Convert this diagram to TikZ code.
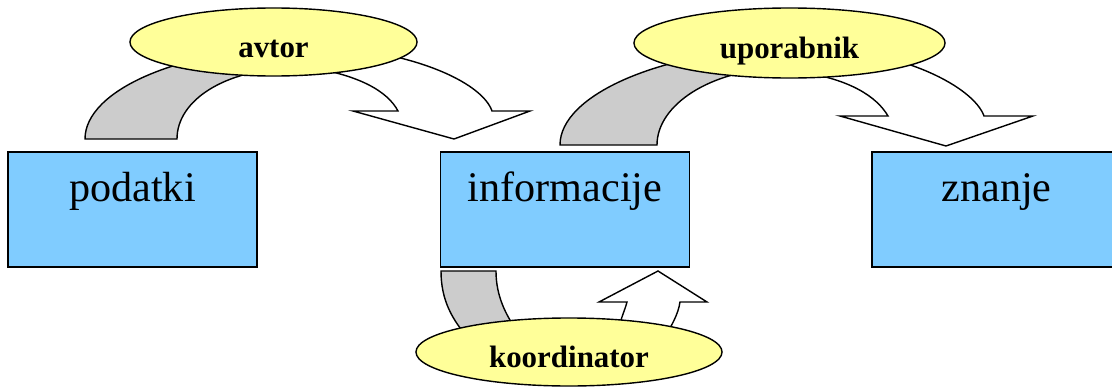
\documentclass[tikz,border=0pt]{standalone}
\usepackage{fontspec}
\setmainfont{Liberation Serif}
\usepackage{xcolor}
\usetikzlibrary{shapes.geometric}

\definecolor{stageblue}{HTML}{80CCFF}
\definecolor{roleyellow}{HTML}{FFFF99}
\definecolor{backgray}{HTML}{CCCCCC}

\tikzset{
  stage/.style={draw, line width=1.3pt, fill=stageblue, minimum width=6.225cm, minimum height=2.875cm,
    inner sep=0pt, text height=0.75cm, text depth=1.125cm, font=\fontsize{30}{30}\selectfont},
  role/.style={draw, ellipse, line width=1pt, fill=roleyellow, inner sep=0pt,
    text height=0.75cm, text depth=0pt, font=\fontsize{22}{22}\selectfont\bfseries},
  back/.style={draw, line width=1pt, fill=backgray},
  front/.style={draw, line width=1pt, fill=white}
}

\begin{document}
\begin{tikzpicture}[x=0.025cm, y=-0.025cm]
    \useasboundingbox (0,0) rectangle (1112,388);
    \clip (0,0) rectangle (1112,388);

    % avtor: podatki -> informacije
    \draw[back] (85,139) .. controls (85,90) and (180,50) .. (290,48) -- (290,68) .. controls (225,70) and (177,100) .. (177,139) -- cycle;
    \draw[front] (300,45) .. controls (410,48) and (482,82) .. (492,111) -- (530,111) -- (454,139) -- (353,111) -- (398,111) .. controls (388,92) and (360,74) .. (300,66) -- cycle;

    % uporabnik: informacije -> znanje
    \draw[back] (560,145) .. controls (560,95) and (660,52) .. (780,48) -- (780,68) .. controls (710,70) and (657,105) .. (657,145) -- cycle;
    \draw[front] (800,46) .. controls (905,49) and (974,88) .. (984,116) -- (1033,116) -- (946,146) -- (840,116) -- (888,116) .. controls (877,97) and (850,79) .. (800,72) -- cycle;

    % koordinator: back to informacije
    \draw[back] (441,271) .. controls (441,300) and (452,320) .. (470,340) -- (520,335) .. controls (505,315) and (496,295) .. (496,271) -- cycle;
    \draw[front] (617,335) .. controls (620,320) and (625,310) .. (627,302) -- (599,302) -- (658,271) -- (707,302) -- (680,302) .. controls (678,315) and (672,325) .. (660,345) -- cycle;

    \node[stage] (podatki) at (132.5,209.5) {podatki};
    \node[stage] (informacije) at (565,209.5) {informacije};
    \node[stage] (znanje) at (996.5,209.5) {znanje};

    \node[role, minimum width=7.175cm, minimum height=1.7cm] (avtor) at (273.5,42) {avtor};
    \node[role, minimum width=7.775cm, minimum height=1.75cm] (uporabnik) at (789.5,43) {uporabnik};
    \node[role, minimum width=7.65cm, minimum height=1.7cm] (koordinator) at (569,352) {koordinator};
\end{tikzpicture}
\end{document}
